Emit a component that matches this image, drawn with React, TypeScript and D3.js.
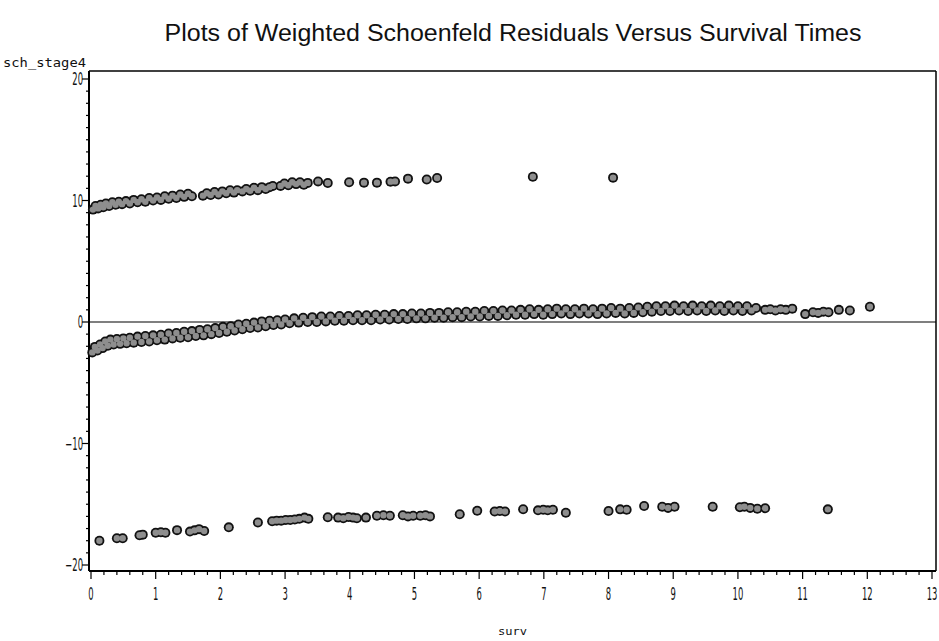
import React from "react";
import * as d3 from "d3";

const TITLE = "Plots of Weighted Schoenfeld Residuals Versus Survival Times";
const Y_LABEL = "sch_stage4";
const X_LABEL = "surv";
const X_TICKS = [0, 1, 2, 3, 4, 5, 6, 7, 8, 9, 10, 11, 12, 13];
const Y_TICKS = [-20, -10, 0, 10, 20];

// upper cluster [surv, residual]
const upperBand: [number, number][] = [
  [0.03, 9.25], [0.07, 9.55], [0.11, 9.35], [0.15, 9.65], [0.19, 9.45], [0.23, 9.75], [0.28, 9.55],
  [0.33, 9.85], [0.38, 9.65], [0.43, 9.9], [0.48, 9.7], [0.54, 9.95], [0.6, 9.75], [0.66, 10.05],
  [0.72, 9.85], [0.78, 10.1], [0.84, 9.9], [0.9, 10.2], [0.96, 10.0], [1.02, 10.25], [1.08, 10.05],
  [1.14, 10.35], [1.2, 10.15], [1.26, 10.4], [1.32, 10.2], [1.38, 10.5], [1.44, 10.3], [1.5, 10.55],
  [1.56, 10.35],
  [1.73, 10.4], [1.79, 10.6], [1.85, 10.45], [1.91, 10.7], [1.97, 10.5], [2.03, 10.75], [2.09, 10.6],
  [2.15, 10.85], [2.21, 10.65], [2.26, 10.85],
  [2.34, 10.75], [2.4, 10.95], [2.46, 10.8], [2.52, 11.05], [2.58, 10.85], [2.64, 11.1], [2.7, 10.95],
  [2.76, 11.1], [2.81, 11.2],
  [2.93, 11.2], [2.99, 11.4], [3.05, 11.25], [3.11, 11.5], [3.17, 11.35], [3.23, 11.5], [3.29, 11.3],
  [3.35, 11.45],
  [3.51, 11.57], [3.66, 11.44], [3.99, 11.5], [4.22, 11.47], [4.42, 11.47], [4.63, 11.55], [4.7, 11.57],
  [4.9, 11.8], [5.19, 11.73], [5.35, 11.85], [6.83, 11.95], [8.07, 11.88],
];

// middle cluster [surv, residual]
const middleBand: [number, number][] = [
  [0.02, -2.5], [0.06, -2.05], [0.1, -2.35], [0.14, -1.85], [0.18, -2.15], [0.22, -1.6], [0.26, -1.95],
  [0.3, -1.45], [0.35, -1.85], [0.4, -1.4], [0.45, -1.8], [0.5, -1.35], [0.55, -1.75], [0.6, -1.3],
  [0.66, -1.7], [0.72, -1.2], [0.78, -1.65], [0.84, -1.15], [0.9, -1.6], [0.96, -1.1], [1.02, -1.5],
  [1.08, -1.05], [1.14, -1.45], [1.2, -0.95], [1.26, -1.35], [1.32, -0.9], [1.38, -1.3], [1.44, -0.8],
  [1.5, -1.25], [1.56, -0.75], [1.62, -1.15], [1.68, -0.65], [1.74, -1.1], [1.8, -0.6], [1.86, -1.0],
  [1.92, -0.5], [1.98, -0.9], [2.04, -0.4], [2.1, -0.8], [2.16, -0.35], [2.22, -0.7], [2.28, -0.2],
  [2.34, -0.6], [2.4, -0.15], [2.46, -0.5], [2.52, -0.05], [2.58, -0.45], [2.64, 0.05], [2.7, -0.35],
  [2.76, 0.1], [2.82, -0.25], [2.88, 0.15], [2.94, -0.2], [3.0, 0.2], [3.07, -0.1], [3.14, 0.3],
  [3.21, -0.05], [3.28, 0.35], [3.35, 0.0], [3.42, 0.4], [3.49, 0.0], [3.56, 0.45], [3.63, 0.05],
  [3.7, 0.45], [3.77, 0.1], [3.84, 0.5], [3.91, 0.1], [3.98, 0.5], [4.05, 0.15], [4.12, 0.55],
  [4.19, 0.15], [4.26, 0.55], [4.33, 0.15], [4.4, 0.6], [4.47, 0.2], [4.54, 0.6], [4.61, 0.2],
  [4.68, 0.65], [4.75, 0.25], [4.82, 0.65], [4.89, 0.25], [4.96, 0.7], [5.03, 0.3], [5.1, 0.7],
  [5.17, 0.3], [5.24, 0.75], [5.31, 0.35], [5.38, 0.75], [5.45, 0.35], [5.52, 0.8], [5.59, 0.4],
  [5.66, 0.8], [5.73, 0.4], [5.8, 0.85], [5.87, 0.45], [5.94, 0.85], [6.01, 0.45], [6.08, 0.9],
  [6.15, 0.5], [6.22, 0.9], [6.29, 0.5], [6.36, 0.95], [6.43, 0.55], [6.5, 0.95], [6.57, 0.6],
  [6.64, 1.0], [6.71, 0.6], [6.78, 1.05], [6.85, 0.65], [6.92, 1.0], [6.99, 0.6], [7.06, 1.05],
  [7.13, 0.65], [7.2, 1.1], [7.27, 0.7], [7.34, 1.05], [7.41, 0.65], [7.48, 1.05], [7.55, 0.7],
  [7.62, 1.1], [7.69, 0.7], [7.76, 1.05], [7.83, 0.65], [7.9, 1.1], [7.97, 0.7], [8.04, 1.15],
  [8.11, 0.75], [8.18, 1.1], [8.25, 0.7], [8.32, 1.15], [8.39, 0.75], [8.46, 1.2], [8.53, 0.8],
  [8.6, 1.25], [8.67, 0.85], [8.74, 1.3], [8.81, 0.9], [8.88, 1.3], [8.95, 0.9], [9.02, 1.35],
  [9.09, 0.95], [9.16, 1.3], [9.23, 0.9], [9.3, 1.35], [9.37, 0.95], [9.44, 1.3], [9.51, 0.9],
  [9.58, 1.35], [9.65, 0.95], [9.72, 1.3], [9.79, 0.9], [9.86, 1.35], [9.93, 0.95], [10.0, 1.3],
  [10.07, 0.9], [10.14, 1.3], [10.21, 0.95], [10.28, 1.15],
  [10.42, 1.0], [10.5, 1.05], [10.58, 0.95], [10.66, 1.05], [10.74, 1.0], [10.84, 1.1],
  [11.04, 0.65], [11.16, 0.8], [11.24, 0.75], [11.32, 0.85], [11.4, 0.8], [11.56, 1.0], [11.73, 0.95],
  [12.04, 1.25],
];

// lower cluster [surv, residual]
const lowerBand: [number, number][] = [
  [0.13, -18.0], [0.4, -17.8], [0.49, -17.8], [0.75, -17.55], [0.8, -17.5], [1.0, -17.35],
  [1.08, -17.3], [1.15, -17.35], [1.33, -17.13], [1.53, -17.25], [1.6, -17.15], [1.67, -17.05],
  [1.75, -17.2], [2.13, -16.9], [2.58, -16.5], [2.8, -16.4], [2.87, -16.35], [2.94, -16.35],
  [3.01, -16.3], [3.08, -16.3], [3.15, -16.25], [3.22, -16.2], [3.3, -16.1], [3.36, -16.2],
  [3.66, -16.07], [3.82, -16.1], [3.9, -16.15], [3.98, -16.05], [4.05, -16.1], [4.11, -16.15],
  [4.25, -16.1], [4.42, -15.95], [4.52, -15.9], [4.62, -15.95], [4.82, -15.9], [4.9, -16.0],
  [4.98, -15.95], [5.09, -15.95], [5.17, -15.9], [5.24, -16.0], [5.7, -15.82], [5.97, -15.53],
  [6.24, -15.6], [6.32, -15.55], [6.4, -15.6], [6.68, -15.41], [6.91, -15.5], [6.99, -15.45],
  [7.06, -15.5], [7.14, -15.45], [7.34, -15.7], [8.0, -15.56], [8.18, -15.42], [8.28, -15.45],
  [8.55, -15.15], [8.83, -15.2], [8.92, -15.3], [9.02, -15.2], [9.61, -15.2], [10.03, -15.25],
  [10.1, -15.2], [10.19, -15.3], [10.3, -15.37], [10.42, -15.33], [11.39, -15.42],
];

const W = 939;
const H = 641;
const LEFT = 89;
const RIGHT = 936;
const TOP = 71;
const BOTTOM = 571;

export default function App() {
  const x = d3.scaleLinear().domain([0, 13]).range([91, 932]);
  const y = d3.scaleLinear().domain([-20, 20]).range([565, 79]);
  const all = [...upperBand, ...middleBand, ...lowerBand];
  const xMinor = d3.range(0, 13.001, 0.2);
  const yMinor = d3.range(-20, 20.001, 1);
  const condensed = "'DejaVu Sans Condensed', 'DejaVu Sans', sans-serif";

  return (
    <svg
      width={W}
      height={H}
      style={{ position: "absolute", left: 0, top: 0, background: "#fff" }}
    >
      <text
        x={513}
        y={41}
        textAnchor="middle"
        fontFamily="'Liberation Sans', Arial, sans-serif"
        fontSize={23}
        textLength={697}
        lengthAdjust="spacingAndGlyphs"
        fill="#111"
      >
        {TITLE}
      </text>

      {/* frame */}
      <g stroke="#000" fill="none">
        <line x1={LEFT} x2={RIGHT} y1={TOP} y2={TOP} strokeWidth={1.5} />
        <line x1={RIGHT} x2={RIGHT} y1={TOP} y2={BOTTOM} strokeWidth={1.5} />
        <line x1={LEFT} x2={LEFT} y1={TOP} y2={BOTTOM} strokeWidth={2} />
        <line x1={LEFT} x2={RIGHT} y1={BOTTOM} y2={BOTTOM} strokeWidth={2} />
        <line x1={LEFT} x2={RIGHT} y1={y(0)} y2={y(0)} strokeWidth={1.2} />
      </g>

      {/* ticks */}
      <g stroke="#000" strokeWidth={1.2}>
        {yMinor.map((v) => (
          <line key={"ym" + v} x1={LEFT} x2={LEFT - (v % 10 === 0 ? 7 : 3)} y1={y(v)} y2={y(v)} />
        ))}
        {xMinor.map((v, i) => (
          <line
            key={"xm" + i}
            x1={x(v)}
            x2={x(v)}
            y1={BOTTOM}
            y2={BOTTOM + (i % 5 === 0 ? 8 : 4)}
          />
        ))}
      </g>

      {/* tick labels */}
      <g fontFamily={condensed} fontSize={17} fill="#111">
        {X_TICKS.map((t) => (
          <text
            key={"xt" + t}
            transform={`translate(${x(t)},${600}) scale(0.55,1)`}
            textAnchor="middle"
          >
            {t}
          </text>
        ))}
        {Y_TICKS.map((t) => (
          <text
            key={"yt" + t}
            transform={`translate(83,${y(t) + 6}) scale(0.55,1)`}
            textAnchor="end"
          >
            {t < 0 ? "−" + Math.abs(t) : String(t)}
          </text>
        ))}
      </g>

      <text
        x={3}
        y={67}
        fontFamily="'DejaVu Sans Mono', monospace"
        fontSize={12}
        textLength={83}
        lengthAdjust="spacingAndGlyphs"
        fill="#111"
      >
        {Y_LABEL}
      </text>
      <text
        x={498}
        y={635}
        fontFamily="'DejaVu Sans Mono', monospace"
        fontSize={11}
        textLength={29}
        lengthAdjust="spacingAndGlyphs"
        fill="#111"
      >
        {X_LABEL}
      </text>

      {/* markers: outline layer then fill layer */}
      <g fill="#111">
        {all.map((d, i) => (
          <circle key={"o" + i} cx={x(d[0])} cy={y(d[1])} r={5} />
        ))}
      </g>
      <g fill="#8e8e8e">
        {all.map((d, i) => (
          <circle key={"f" + i} cx={x(d[0])} cy={y(d[1])} r={3.2} />
        ))}
      </g>
    </svg>
  );
}
